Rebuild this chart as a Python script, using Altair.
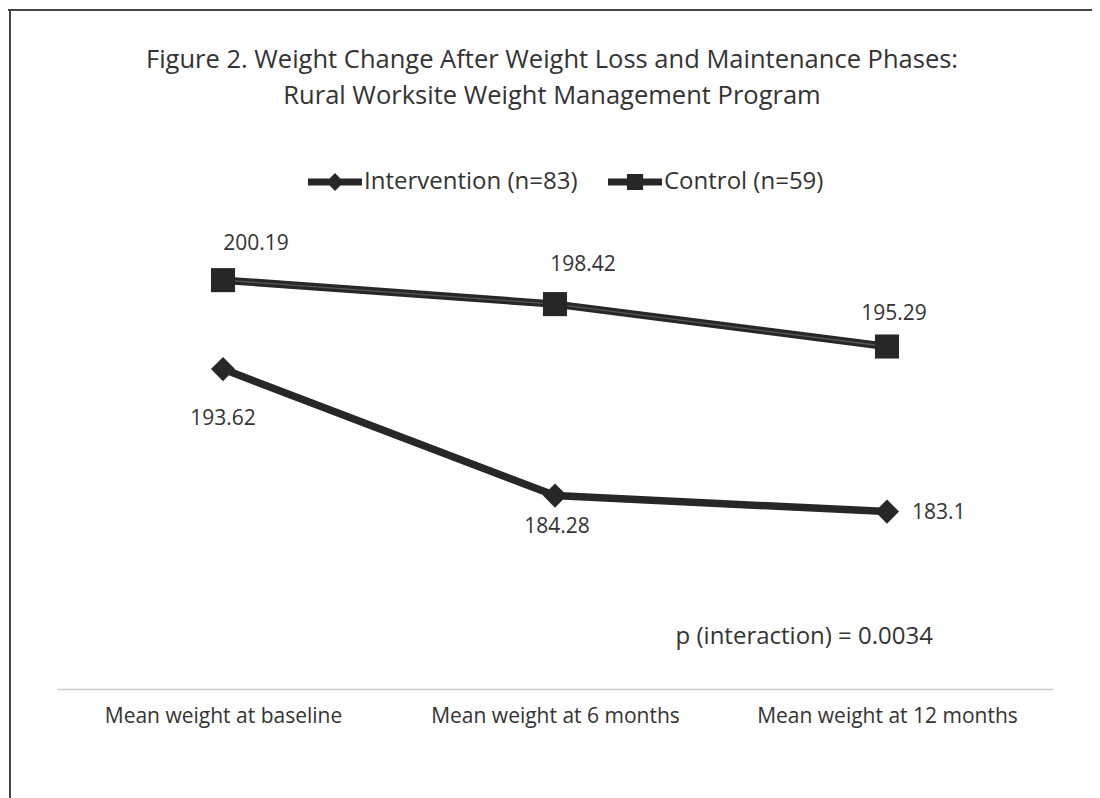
import altair as alt
import pandas as pd

title_lines = [
    "Figure 2. Weight Change After Weight Loss and Maintenance Phases:",
    "Rural Worksite Weight Management Program",
]
phases = ["Mean weight at baseline", "Mean weight at 6 months", "Mean weight at 12 months"]
series_names = ["Intervention (n=83)", "Control (n=59)"]
intervention = [193.62, 184.28, 183.1]
control = [200.19, 198.42, 195.29]
annotation = "p (interaction) = 0.0034"

rows = []
for name, vals in zip(series_names, [intervention, control]):
    for ph, v in zip(phases, vals):
        rows.append({"series": name, "phase": ph, "weight": v, "label": f"{v:g}"})
df = pd.DataFrame(rows)

FONT = "Open Sans"
INK = "#272727"
TXT = "#333333"
W, H = 996, 474

x_enc = alt.X("phase:N", sort=phases, title=None,
              axis=alt.Axis(labelAngle=0, labelFontSize=21, labelFont=FONT, labelColor=TXT,
                            ticks=False, domainColor="#cdcdcd", domainWidth=1.5,
                            labelPadding=16, labelLimit=0, grid=False),
              scale=alt.Scale(paddingInner=0, paddingOuter=0.5))
y_enc = alt.Y("weight:Q", axis=None, scale=alt.Scale(domain=[170, 205], zero=False, nice=False))

base = alt.Chart(df)

lines = base.mark_line(strokeWidth=7.5, color=INK).encode(x=x_enc, y=y_enc, detail="series:N")
lines_hi = base.mark_line(strokeWidth=1.3, color="#777777", opacity=0.6).encode(
    x=x_enc, y=y_enc, detail="series:N").transform_filter(alt.datum.series == series_names[1])

points = base.mark_point(filled=True, opacity=1, size=580, color=INK).encode(
    x=x_enc, y=y_enc,
    shape=alt.Shape("series:N", sort=series_names,
                    scale=alt.Scale(domain=series_names, range=["diamond", "square"]), legend=None),
)

p_int = ("M-1,-0.13L-0.2,-0.13L0,-0.33L0.2,-0.13L1,-0.13L1,0.13L0.2,0.13L0,0.33L-0.2,0.13L-1,0.13Z")
p_ctl = ("M-1,-0.13L-0.3,-0.13L-0.3,-0.3L0.3,-0.3L0.3,-0.13L1,-0.13L1,0.13L0.3,0.13L0.3,0.3"
         "L-0.3,0.3L-0.3,0.13L-1,0.13Z")
legend_layer = base.mark_point(filled=True, opacity=0, size=10).encode(
    x=x_enc, y=y_enc, color=alt.value(INK),
    shape=alt.Shape("series:N", sort=series_names,
                    scale=alt.Scale(domain=series_names, range=[p_int, p_ctl]),
                    legend=alt.Legend(title=None, orient="none", legendX=251, legendY=-60,
                                      direction="horizontal", symbolSize=2916,
                                      symbolFillColor=INK, symbolStrokeWidth=0,
                                      symbolOpacity=1, labelFontSize=24, labelFont=FONT,
                                      labelColor=TXT, labelOffset=2, columnPadding=30,
                                      labelLimit=0)),
)

lab_style = dict(fontSize=21, font=FONT, color=TXT, baseline="middle")


def one_label(series, phase, **kw):
    return base.mark_text(**lab_style, **kw).encode(
        x=x_enc, y=y_enc, text="label:N").transform_filter(
        (alt.datum.series == series) & (alt.datum.phase == phase))


labels = [
    one_label(series_names[1], phases[0], dx=33, dy=-36),
    one_label(series_names[1], phases[1], dx=28, dy=-39),
    one_label(series_names[1], phases[2], dx=7, dy=-33),
    one_label(series_names[0], phases[0], dx=0, dy=50),
    one_label(series_names[0], phases[1], dx=2, dy=31),
    one_label(series_names[0], phases[2], dx=25, dy=1, align="left"),
]

ann_df = pd.DataFrame({"t": [annotation]})
ann = alt.Chart(ann_df).mark_text(fontSize=24, font=FONT, color=TXT, align="right",
                                  baseline="middle").encode(
    text="t:N", x=alt.value(876), y=alt.value(422))

title_df = pd.DataFrame({"t": title_lines})
title1 = alt.Chart(title_df).mark_text(fontSize=25.5, font=FONT, color=TXT, baseline="middle").encode(
    text="t:N", x=alt.value(W / 2 - 3), y=alt.value(-155)).transform_filter(
    alt.datum.t == title_lines[0])
title2 = alt.Chart(title_df).mark_text(fontSize=25.5, font=FONT, color=TXT, baseline="middle").encode(
    text="t:N", x=alt.value(W / 2 - 3), y=alt.value(-119)).transform_filter(
    alt.datum.t == title_lines[1])

frame_df = pd.DataFrame({"k": [0]})
top_line = alt.Chart(frame_df).mark_rule(color="#444444", strokeWidth=2).encode(
    x=alt.value(-49), x2=alt.value(1035), y=alt.value(-205))
left_line = alt.Chart(frame_df).mark_rule(color="#444444", strokeWidth=2).encode(
    x=alt.value(-47), y=alt.value(-205), y2=alt.value(585))

chart = alt.layer(
    top_line, left_line, lines, lines_hi, points, legend_layer,
    *labels, ann, title1, title2,
).resolve_scale(shape="independent").properties(
    width=W, height=H,
    autosize=alt.AutoSizeParams(type="none"),
    padding={"left": 49, "top": 207, "right": 39, "bottom": 109},
    background="white",
).configure_view(stroke=None)

chart.save("out.html", embed_options={"renderer": "svg", "actions": False})
